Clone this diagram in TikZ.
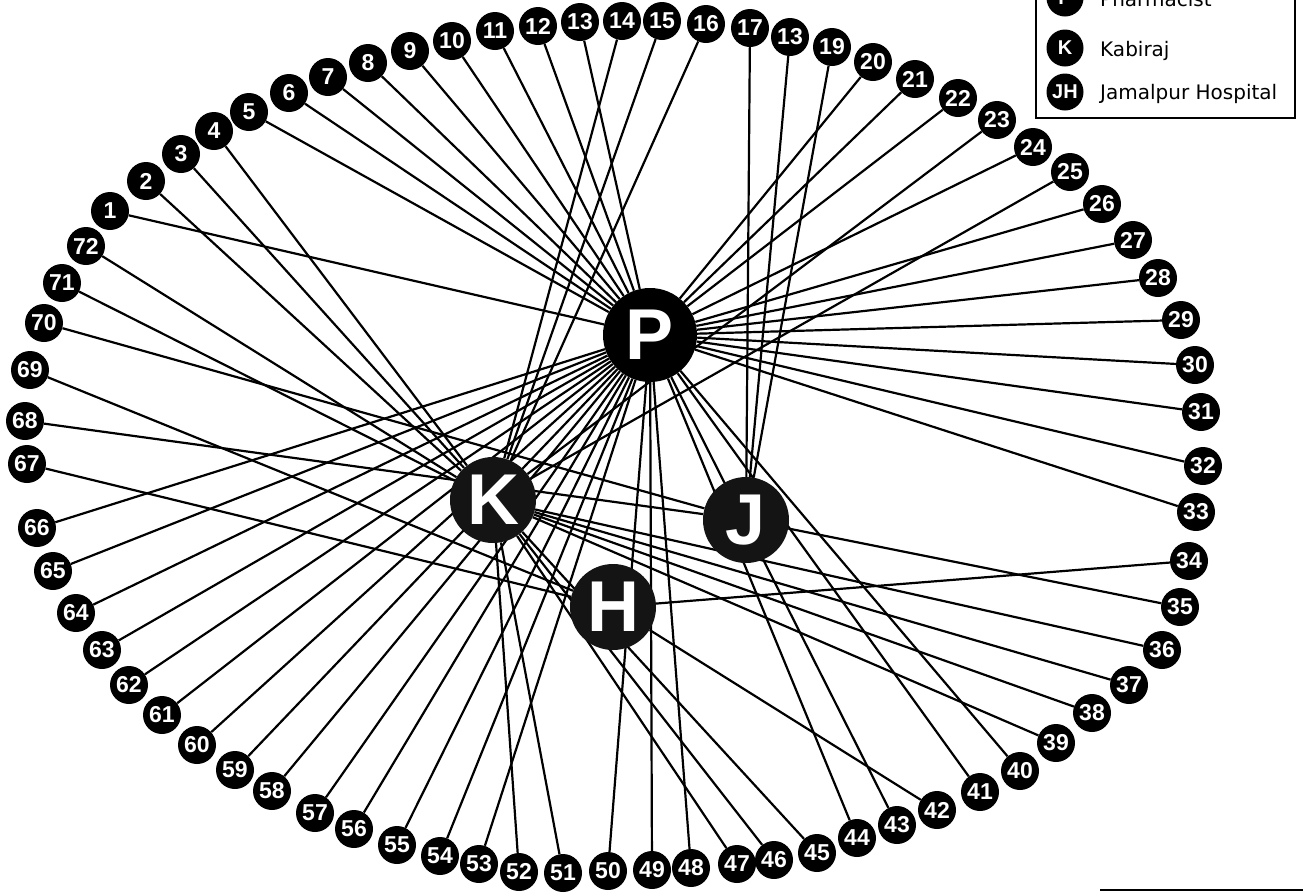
\documentclass[tikz,border=0pt]{standalone}
\usepackage{fontspec}
\newfontfamily\numfont{Liberation Sans}
\newfontfamily\legfont{DejaVu Sans}
\usetikzlibrary{backgrounds}
\begin{document}
\begin{tikzpicture}[x=1pt,y=-1pt,
  outer/.style={circle,fill=black,text=white,inner sep=0pt,minimum size=38pt,
    font=\numfont\bfseries\fontsize{23}{23}\selectfont},
  hub/.style={circle,fill=black!92,text=white,inner sep=0pt,minimum size=86pt,
    font=\numfont\bfseries\fontsize{72}{72}\selectfont},
  legcirc/.style={circle,fill=black,text=white,inner sep=0pt,minimum size=37pt,
    font=\numfont\bfseries\fontsize{20}{20}\selectfont},
  legtext/.style={anchor=base west,inner sep=0pt,font=\legfont\fontsize{20}{20}\selectfont},
  edge/.style={line width=2.2pt,black}]
\useasboundingbox (0,0) rectangle (1303,895);
\clip (0,0) rectangle (1303,895);
% hubs
\node[hub,fill=black,minimum size=94pt] (P) at (650,335) {P};
\node[hub] (K) at (493,500) {K};
\node[hub] (J) at (746,520) {J};
\node[hub] (H) at (613,607) {H};
% outer nodes
\foreach \i/\x/\y in {1/110/211, 2/146/181, 3/181/154, 4/214/131, 5/249/112, 6/289/93,
  7/328/77, 8/368/63, 9/410/51, 10/452/41, 11/495/31, 12/538/26, 13/580/22, 14/622/21,
  15/662/21, 16/706/24, 17/750/28, 18/790/37, 19/832/47, 20/873/62, 21/915/79,
  22/958/98, 23/997/120, 24/1033/147, 25/1070/172, 26/1102/204, 27/1133/240,
  28/1158/278, 29/1181/320, 30/1195/365, 31/1201/412, 32/1203/466, 33/1196/512,
  34/1189/561, 35/1180/607, 36/1162/650, 37/1129/685, 38/1092/713, 39/1056/743,
  40/1020/771, 41/980/792, 42/937/810, 43/897/825, 44/857/838, 45/817/853,
  46/774/860, 47/737/864, 48/691/868, 49/652/870, 50/608/871, 51/563/873,
  52/519/872, 53/479/864, 54/440/856, 55/397/845, 56/354/829, 57/315/813,
  58/272/791, 59/235/770, 60/197/745, 61/162/715, 62/129/685, 63/102/650,
  64/76/613, 65/53/571, 66/37/528, 67/27/464, 68/25/421, 69/30/370, 70/44/323,
  71/62/283, 72/86/246}
  \node[outer] (n\i) at (\x,\y) {\ifnum\i=18 13\else\i\fi};
% connectors
\begin{pgfonlayer}{background}
\foreach \i in {1,5,6,7,8,9,10,11,12,13,20,21,22,24,26,27,28,29,30,31,32,33,
  40,41,43,44,48,49,50,53,54,55,56,57,58,59,60,61,62,63,64,65,66}
  \draw[edge] (n\i) -- (P);
\foreach \i in {2,3,4,14,15,16,23,25,36,37,38,39,45,46,47,51,52,71,72}
  \draw[edge] (n\i) -- (K);
\foreach \i in {17,18,19,35,68,70}
  \draw[edge] (n\i) -- (J);
\foreach \i in {34,42,67,69}
  \draw[edge] (n\i) -- (H);
\end{pgfonlayer}
% legend
\draw[line width=1.5pt,fill=white] (1036,-10) rectangle (1295,118);
\node[legcirc] (lp) at (1065,-2) {P};
\node[legcirc] (lk) at (1065,48) {K};
\node[legcirc] (lj) at (1065,92) {JH};
\node[legtext] (tp) at (1100,6) {Pharmacist};
\node[legtext] (tk) at (1100,56) {Kabiraj};
\node[legtext] (tj) at (1100,99) {Jamalpur Hospital};
% edge of a box at bottom right
\coordinate (b1) at (1100,890);
\coordinate (b2) at (1303,890);
\draw[line width=2pt] (b1) -- (b2);
\end{tikzpicture}
\end{document}
